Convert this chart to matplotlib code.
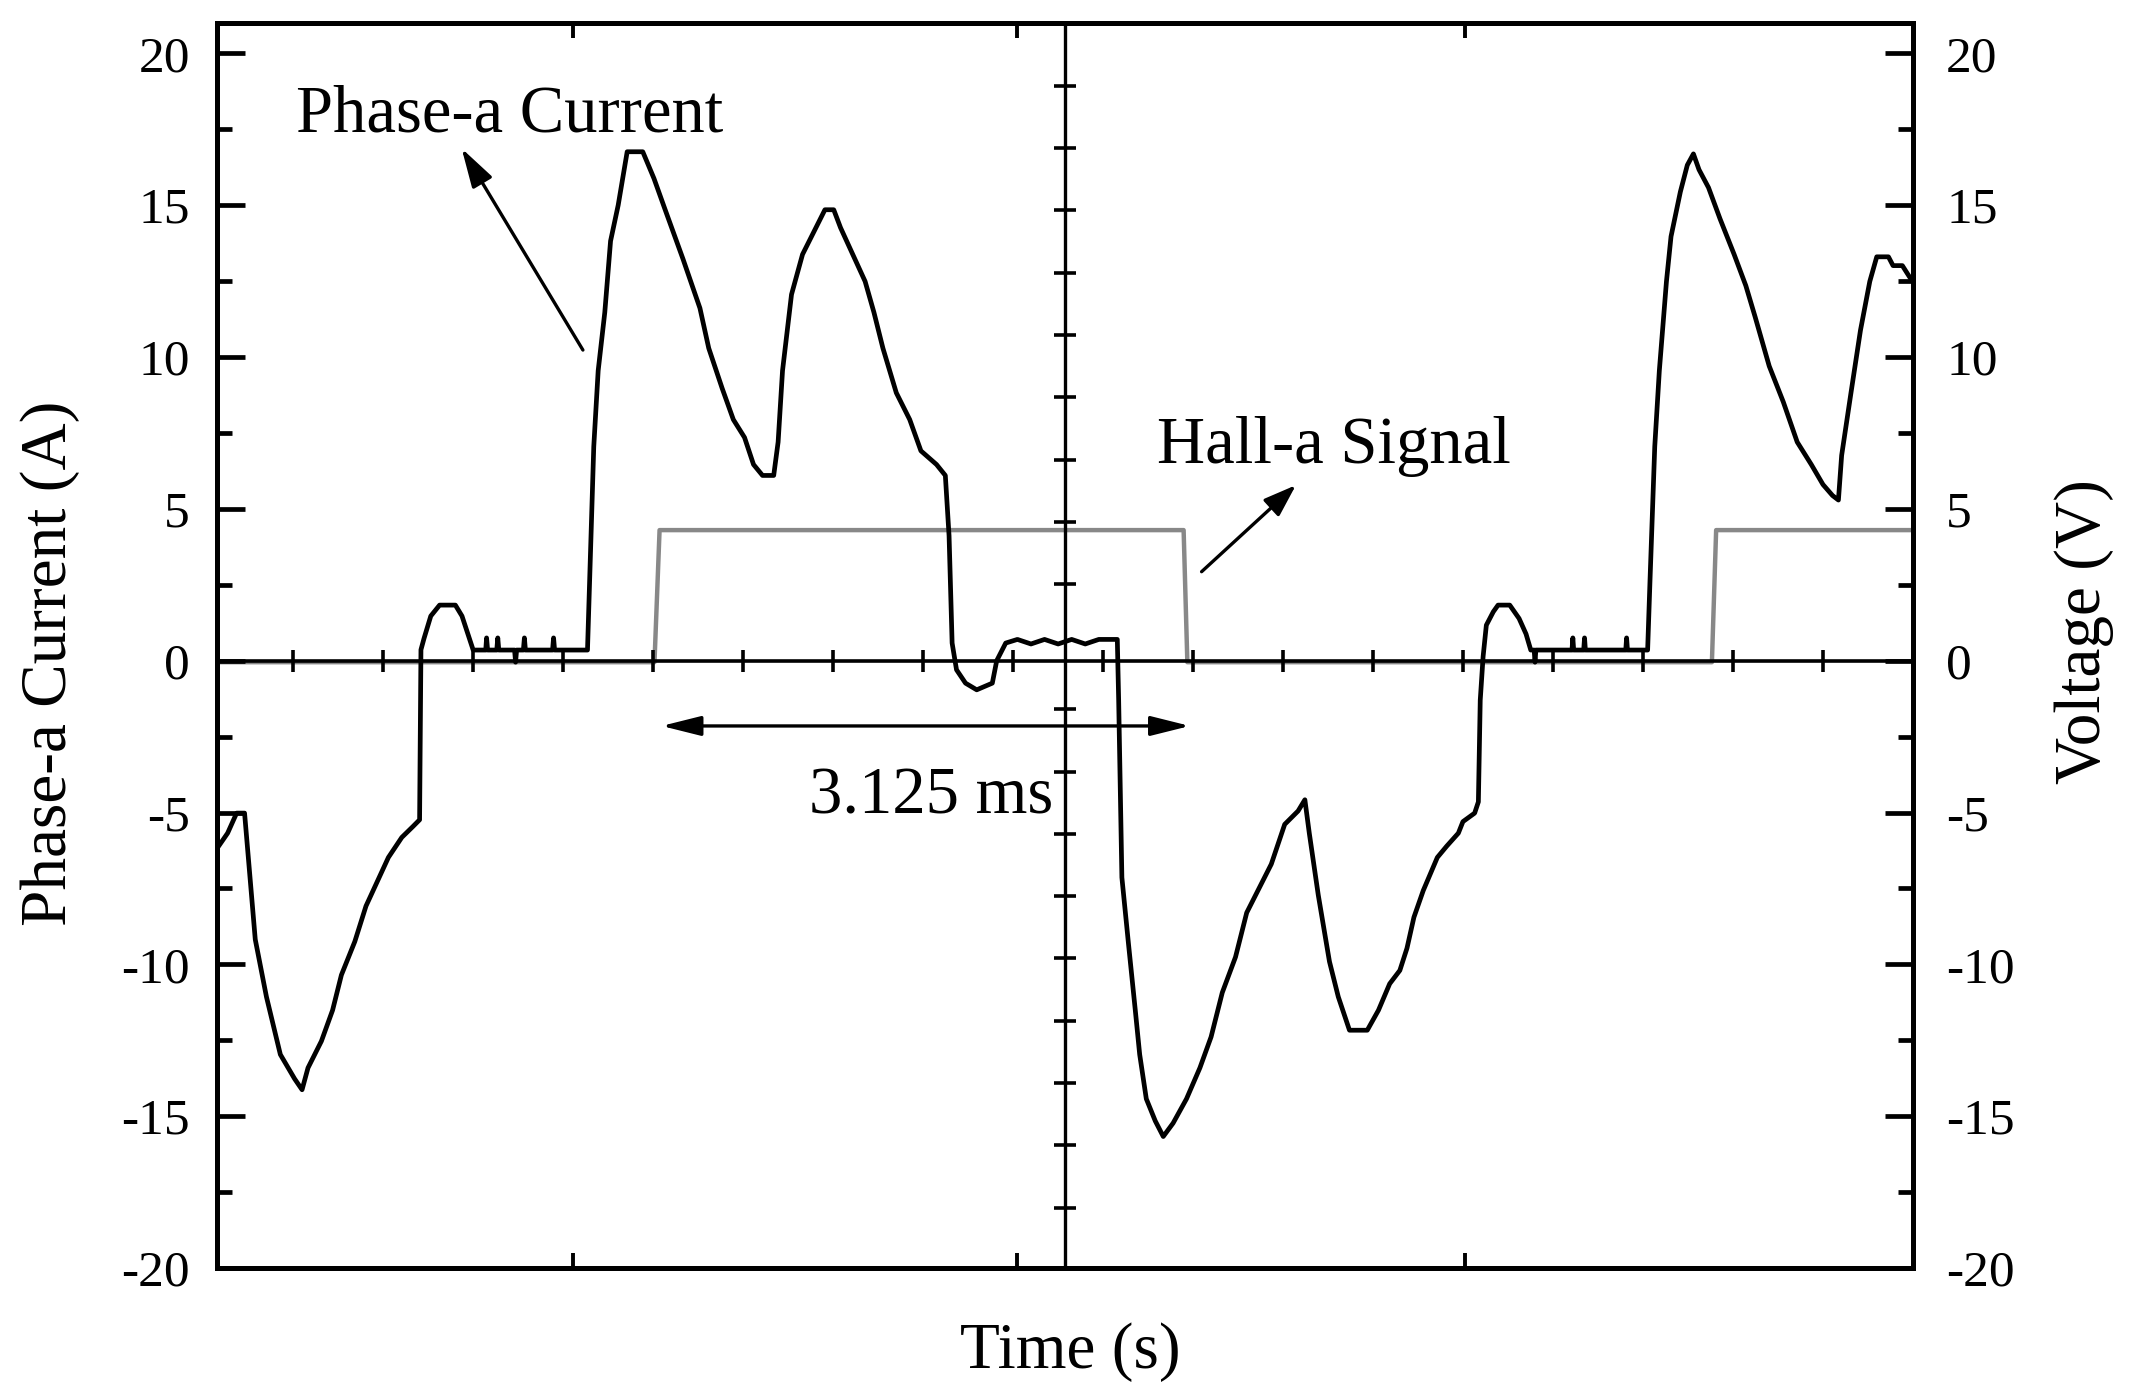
import matplotlib
matplotlib.use('Agg')
import matplotlib.pyplot as plt
import numpy as np

plt.rcParams['font.family'] = ['Liberation Serif', 'DejaVu Serif']
plt.rcParams['axes.unicode_minus'] = False

# phase-a current (time in ms, current in A)
t_neg1 = [0.000, 0.063, 0.116, 0.163, 0.226, 0.292, 0.374, 0.458, 0.502, 0.537,
          0.616, 0.682, 0.734, 0.813, 0.879, 0.945, 1.011, 1.090, 1.156, 1.195]
i_neg1 = [-6.19, -5.68, -5.02, -5.02, -9.18, -11.07, -12.97, -13.77, -14.13, -13.41,
          -12.53, -11.51, -10.35, -9.25, -8.08, -7.28, -6.48, -5.82, -5.46, -5.24]

t_flat1 = [1.203, 1.221, 1.261, 1.313, 1.406, 1.445, 1.511, 1.585, 1.590, 1.596, 1.650,
           1.656, 1.662, 1.755, 1.761, 1.767, 1.807, 1.813, 1.819, 1.979, 1.985, 1.991, 2.185]
i_flat1 = [0.36, 0.73, 1.47, 1.83, 1.83, 1.47, 0.35, 0.35, 0.75, 0.35, 0.35,
           0.75, 0.35, 0.35, -0.05, 0.35, 0.35, 0.75, 0.35, 0.35, 0.75, 0.35, 0.35]

t_pos1 = [2.222, 2.248, 2.287, 2.321, 2.366, 2.419, 2.511, 2.577, 2.643, 2.748, 2.848,
          2.900, 2.979, 3.045, 3.111, 3.164, 3.217, 3.283, 3.309, 3.335, 3.388, 3.453,
          3.532, 3.585, 3.637, 3.677, 3.756, 3.822, 3.874, 3.927, 4.006, 4.085, 4.151,
          4.243, 4.295, 4.317, 4.335, 4.361, 4.414, 4.480, 4.572, 4.598, 4.651]
i_pos1 = [7.05, 9.55, 11.47, 13.82, 15.00, 16.76, 16.76, 15.88, 14.85, 13.23, 11.61,
          10.29, 8.97, 7.94, 7.35, 6.46, 6.10, 6.10, 7.20, 9.55, 12.06, 13.38,
          14.26, 14.85, 14.85, 14.26, 13.30, 12.49, 11.47, 10.29, 8.82, 7.94, 6.91,
          6.46, 6.10, 4.11, 0.58, -0.30, -0.74, -0.96, -0.74, 0.00, 0.58]

t_flat2 = [4.72, 4.80, 4.88, 4.96, 5.04, 5.12, 5.20, 5.309]
i_flat2 = [0.70, 0.55, 0.70, 0.55, 0.70, 0.55, 0.70, 0.70]

t_neg2 = [5.317, 5.336, 5.375, 5.415, 5.441, 5.480, 5.533, 5.580, 5.638, 5.717,
          5.796, 5.862, 5.928, 6.006, 6.072, 6.138, 6.217, 6.296, 6.375, 6.415,
          6.441, 6.494, 6.560, 6.612, 6.678, 6.783, 6.849, 6.915, 6.975, 7.017,
          7.058, 7.113, 7.196, 7.251, 7.320, 7.347, 7.416, 7.438, 7.449]
i_neg2 = [-1.30, -7.14, -9.33, -11.51, -12.97, -14.43, -15.16, -15.67, -15.23, -14.43,
          -13.41, -12.39, -10.93, -9.76, -8.30, -7.57, -6.70, -5.39, -4.95, -4.58,
          -5.68, -7.72, -9.91, -11.07, -12.17, -12.17, -11.51, -10.64, -10.20, -9.47,
          -8.45, -7.57, -6.48, -6.11, -5.68, -5.30, -5.02, -4.65, -1.30]

t_flat3 = [7.466, 7.485, 7.526, 7.554, 7.623, 7.678, 7.719, 7.747, 7.767, 7.772, 7.777,
           7.990, 7.995, 8.000, 8.059, 8.064, 8.069, 8.307, 8.312, 8.317, 8.436]
i_flat3 = [0.14, 1.17, 1.61, 1.83, 1.83, 1.39, 0.88, 0.35, 0.35, -0.05, 0.35,
           0.35, 0.75, 0.35, 0.35, 0.75, 0.35, 0.35, 0.75, 0.35, 0.35]

t_pos2 = [8.450, 8.478, 8.505, 8.547, 8.574, 8.629, 8.670, 8.706, 8.739, 8.795, 8.863,
          8.946, 9.015, 9.070, 9.153, 9.236, 9.318, 9.401, 9.470, 9.526, 9.561, 9.580,
          9.635, 9.691, 9.746, 9.787, 9.856, 9.883, 9.938, 9.980, 10.0]
i_pos2 = [2.64, 7.05, 9.55, 12.49, 13.97, 15.44, 16.32, 16.69, 16.17, 15.58, 14.55,
          13.38, 12.35, 11.32, 9.70, 8.52, 7.20, 6.46, 5.80, 5.44, 5.29, 6.76,
          8.82, 10.88, 12.49, 13.30, 13.30, 13.01, 13.01, 12.64, 12.49]

# hall-a sensor output (V)
hall_t = [0.0, 2.580, 2.610, 5.700, 5.722, 8.815, 8.840, 10.0]
hall_v = [-0.05, -0.05, 4.30, 4.30, -0.05, -0.05, 4.30, 4.30]

t_cur = np.concatenate([t_neg1, t_flat1, t_pos1, t_flat2, t_neg2, t_flat3, t_pos2])
i_cur = np.concatenate([i_neg1, i_flat1, i_pos1, i_flat2, i_neg2, i_flat3, i_pos2])

fig = plt.figure(figsize=(21.33, 13.94), dpi=100)
ax = fig.add_axes([0.1017, 0.0904, 0.7951, 0.8931])
ax2 = ax.twinx()

ax2.plot(hall_t, hall_v, color='#888888', lw=3.2)
ax.plot(t_cur, i_cur, color='k', lw=3.4, zorder=3)
ax.set_zorder(ax2.get_zorder() + 1)
ax.patch.set_visible(False)

for a in (ax, ax2):
    a.set_xlim(0, 10)
    a.set_ylim(-20, 21)
    a.set_yticks(np.arange(-20, 21, 5))
    a.set_yticks(np.arange(-17.5, 20, 5), minor=True)
    for s in a.spines.values():
        s.set_linewidth(3.6)

ax.tick_params(axis='y', which='major', direction='in', length=20, width=3.4,
               labelsize=37, pad=19.5, left=True, right=False)
ax.tick_params(axis='y', which='minor', direction='in', length=11, width=3.4,
               left=True, right=False)
ax2.tick_params(axis='y', which='major', direction='in', length=20, width=3.4,
                labelsize=37, pad=24, right=True, left=False)
ax2.tick_params(axis='y', which='minor', direction='in', length=11, width=3.4,
                right=True, left=False)
ax.set_xticks([2.10, 4.72, 7.36])
ax.tick_params(axis='x', direction='in', length=11, width=2.8, top=True,
               bottom=True, labelbottom=False)

# scope centre axes with their own division ticks
ax.axhline(0, color='k', lw=2.6, zorder=2)
ax.axvline(5.0, color='k', lw=2.4, zorder=2)
zero_ticks = 0.448 + 0.5307 * np.arange(18)
center_ticks = [18.93, 16.88, 14.83, 12.77, 10.72, 8.67, 6.61, 4.56, 2.51,
                -1.59, -3.65, -5.70, -7.75, -9.80, -11.86, -13.91, -15.96, -18.02]
ax.vlines(zero_ticks, -0.36, 0.36, color='k', lw=2.6, zorder=2)
ax.hlines(center_ticks, 5.0 - 0.064, 5.0 + 0.064, color='k', lw=2.6, zorder=2)

# annotations
ax.text(0.466, 17.42, 'Phase-a Current', fontsize=48, va='baseline', ha='left')
ax.annotate('', xy=(1.443, 16.87), xytext=(2.158, 10.23),
            arrowprops=dict(arrowstyle='-|>,head_length=1.2,head_width=0.35',
                            mutation_scale=20, lw=2.4, color='k',
                            shrinkA=0, shrinkB=0))
ax.text(5.545, 6.50, 'Hall-a Signal', fontsize=48, va='baseline', ha='left')
ax.annotate('', xy=(6.362, 5.78), xytext=(5.806, 2.93),
            arrowprops=dict(arrowstyle='-|>,head_length=1.0,head_width=0.35',
                            mutation_scale=20, lw=2.4, color='k',
                            shrinkA=0, shrinkB=0))
ax.annotate('', xy=(2.622, -2.15), xytext=(5.737, -2.15),
            arrowprops=dict(arrowstyle='<|-|>,head_length=1.2,head_width=0.3',
                            mutation_scale=20, lw=2.4, color='k',
                            shrinkA=0, shrinkB=0))
ax.text(3.49, -5.02, '3.125 ms', fontsize=48, va='baseline', ha='left')

fig.text(0.0234, 0.524, 'Phase-a Current (A)', rotation=90, ha='center',
         va='center', fontsize=47)
fig.text(0.977, 0.547, 'Voltage (V)', rotation=90, ha='center', va='center',
         fontsize=47)
fig.text(0.502, 0.0187, 'Time (s)', ha='center', va='baseline', fontsize=47)

fig.savefig('out.png', dpi=100)
